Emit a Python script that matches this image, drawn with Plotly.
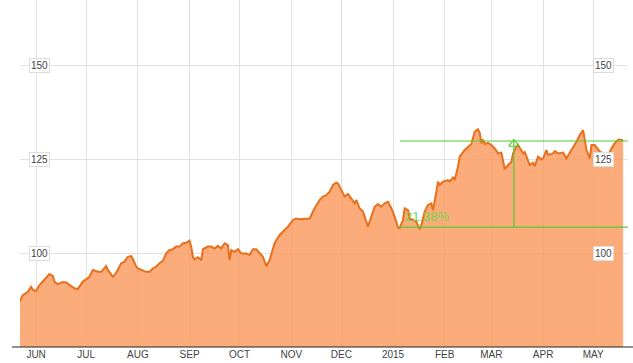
import plotly.graph_objects as go

dates = [
    "2014-05-22", "2014-05-24", "2014-05-27", "2014-05-29", "2014-05-30", "2014-06-01",
    "2014-06-03", "2014-06-05", "2014-06-07", "2014-06-09", "2014-06-11", "2014-06-12",
    "2014-06-14", "2014-06-17", "2014-06-19", "2014-06-21", "2014-06-24", "2014-06-26",
    "2014-06-27", "2014-06-29", "2014-07-02", "2014-07-03", "2014-07-05", "2014-07-08",
    "2014-07-10", "2014-07-11", "2014-07-13", "2014-07-14", "2014-07-17", "2014-07-18",
    "2014-07-20", "2014-07-22", "2014-07-24", "2014-07-26", "2014-07-28", "2014-07-29",
    "2014-07-31", "2014-08-01", "2014-08-03", "2014-08-06", "2014-08-08", "2014-08-10",
    "2014-08-12", "2014-08-14", "2014-08-16", "2014-08-18", "2014-08-20", "2014-08-22",
    "2014-08-24", "2014-08-26", "2014-08-28", "2014-08-30", "2014-09-01", "2014-09-02",
    "2014-09-03", "2014-09-04", "2014-09-06", "2014-09-08", "2014-09-09", "2014-09-12",
    "2014-09-14", "2014-09-16", "2014-09-18", "2014-09-20", "2014-09-22", "2014-09-24",
    "2014-09-25", "2014-09-26", "2014-09-28", "2014-09-30", "2014-10-02", "2014-10-05",
    "2014-10-07", "2014-10-09", "2014-10-11", "2014-10-13", "2014-10-15", "2014-10-17",
    "2014-10-19", "2014-10-22", "2014-10-25", "2014-10-28", "2014-10-30", "2014-11-02",
    "2014-11-04", "2014-11-06", "2014-11-09", "2014-11-12", "2014-11-15", "2014-11-18",
    "2014-11-20", "2014-11-22", "2014-11-24", "2014-11-26", "2014-11-28", "2014-11-29",
    "2014-12-01", "2014-12-03", "2014-12-05", "2014-12-07", "2014-12-09", "2014-12-10",
    "2014-12-12", "2014-12-14", "2014-12-16", "2014-12-17", "2014-12-19", "2014-12-21",
    "2014-12-23", "2014-12-25", "2014-12-27", "2014-12-29", "2014-12-31", "2015-01-02",
    "2015-01-04", "2015-01-05", "2015-01-07", "2015-01-08", "2015-01-10", "2015-01-11",
    "2015-01-13", "2015-01-15", "2015-01-17", "2015-01-18", "2015-01-20", "2015-01-22",
    "2015-01-24", "2015-01-25", "2015-01-27", "2015-01-28", "2015-01-29", "2015-01-31",
    "2015-02-03", "2015-02-04", "2015-02-06", "2015-02-07", "2015-02-09", "2015-02-10",
    "2015-02-13", "2015-02-15", "2015-02-17", "2015-02-19", "2015-02-21", "2015-02-22",
    "2015-02-23", "2015-02-24", "2015-02-25", "2015-02-27", "2015-03-01", "2015-03-03",
    "2015-03-05", "2015-03-07", "2015-03-08", "2015-03-09", "2015-03-11", "2015-03-13",
    "2015-03-14", "2015-03-16", "2015-03-17", "2015-03-19", "2015-03-20", "2015-03-21",
    "2015-03-23", "2015-03-24", "2015-03-26", "2015-03-27", "2015-03-29", "2015-03-31",
    "2015-04-01", "2015-04-03", "2015-04-04", "2015-04-07", "2015-04-08", "2015-04-10",
    "2015-04-13", "2015-04-14", "2015-04-15", "2015-04-18", "2015-04-20", "2015-04-21",
    "2015-04-23", "2015-04-25", "2015-04-26", "2015-04-27", "2015-04-29", "2015-04-30",
    "2015-05-02", "2015-05-05", "2015-05-07", "2015-05-10", "2015-05-12", "2015-05-14",
    "2015-05-16", "2015-05-18", "2015-05-19",
]

prices = [
    87.0, 88.8, 89.7, 91.0, 90.2, 89.9,
    91.5, 92.5, 93.3, 94.4, 93.9, 92.4,
    91.7, 92.3, 92.2, 91.5, 90.6, 90.4,
    91.2, 92.4, 93.3, 93.7, 95.5, 95.0,
    95.0, 95.5, 96.5, 95.5, 93.7, 94.1,
    95.5, 97.3, 97.7, 99.0, 99.2, 98.4,
    96.4, 95.9, 95.5, 95.0, 95.0, 95.9,
    96.4, 97.3, 97.9, 99.9, 100.8, 101.0,
    101.7, 101.7, 102.6, 102.7, 103.3, 101.7,
    99.0, 98.3, 98.9, 98.1, 101.0, 101.7,
    101.7, 101.2, 101.9, 101.2, 102.6, 102.1,
    98.1, 100.8, 100.3, 101.0, 99.9, 99.9,
    99.5, 101.0, 101.0, 100.1, 99.0, 96.5,
    98.1, 102.6, 104.8, 106.1, 107.0, 108.8,
    109.2, 109.0, 109.0, 109.2, 111.9, 114.1,
    115.0, 115.4, 116.3, 118.1, 118.7, 118.5,
    116.8, 115.0, 115.7, 114.5, 113.2, 114.1,
    111.9, 111.0, 108.3, 107.0, 109.7, 112.3,
    113.0, 112.3, 113.2, 113.6, 111.9, 109.7,
    106.8, 106.6, 108.8, 111.9, 111.4, 109.2,
    108.8, 108.3, 106.3, 107.4, 111.0, 112.8,
    113.2, 111.4, 116.3, 119.0, 118.1, 119.0,
    119.4, 119.0, 120.1, 119.4, 123.0, 125.6,
    127.4, 128.3, 129.0, 132.3, 132.9, 132.0,
    129.2, 130.2, 129.0, 129.3, 128.7, 127.8,
    126.5, 126.7, 123.9, 122.3, 123.4, 124.3,
    126.5, 128.3, 128.7, 127.4, 126.5, 126.9,
    124.3, 123.4, 124.0, 123.1, 125.6, 124.9,
    125.2, 127.4, 126.1, 126.5, 127.1, 126.5,
    126.7, 126.1, 125.2, 127.4, 128.7, 129.6,
    131.4, 132.7, 130.1, 127.4, 125.2, 128.7,
    128.7, 127.0, 126.5, 126.0, 127.8, 129.2,
    130.1, 130.1, 129.8,
]

month_ticks = ["2014-06-01", "2014-07-01", "2014-08-01", "2014-09-01", "2014-10-01",
               "2014-11-01", "2014-12-01", "2015-01-01", "2015-02-01", "2015-03-01",
               "2015-04-01", "2015-05-01"]
month_labels = ["JUN", "JUL", "AUG", "SEP", "OCT", "NOV", "DEC", "2015", "FEB", "MAR",
                "APR", "MAY"]
y_ticks = [100, 125, 150]

# measurement tool
meas_start = "2015-01-05"
meas_end = "2015-05-21 20:00"
meas_mid = "2015-03-14 12:00"
meas_low = 106.9
meas_high = 129.8
meas_label = "21.38%"
meas_label_pos = ("2015-01-07", 109.6)

x_range = ["2014-05-22 08:00", "2015-05-21 22:00"]
y_range = [75, 167.3]

GREEN = "#55cc2e"

fig = go.Figure()
fig.add_trace(go.Scatter(
    x=dates, y=prices, mode="lines",
    line=dict(color="#e8701c", width=2),
    fill="tozeroy", fillcolor="rgba(251,150,90,0.80)",
    hoverinfo="skip", showlegend=False,
))

# measurement lines
fig.add_trace(go.Scatter(x=[meas_start, meas_end], y=[meas_high, meas_high], mode="lines",
                         line=dict(color=GREEN, width=1.2), showlegend=False, hoverinfo="skip"))
fig.add_trace(go.Scatter(x=[meas_start, meas_end], y=[meas_low, meas_low], mode="lines",
                         line=dict(color=GREEN, width=1.2), showlegend=False, hoverinfo="skip"))
fig.add_trace(go.Scatter(x=[meas_mid, meas_mid], y=[meas_low, meas_high], mode="lines",
                         line=dict(color=GREEN, width=1.2), showlegend=False, hoverinfo="skip"))
fig.add_trace(go.Scatter(x=[meas_mid], y=[meas_high - 0.8], mode="markers",
                         marker=dict(symbol="triangle-up-open", size=9, color=GREEN,
                                     line=dict(width=1.2, color=GREEN)),
                         showlegend=False, hoverinfo="skip"))

annotations = [dict(x=meas_label_pos[0], y=meas_label_pos[1], text=meas_label,
                    showarrow=False, xanchor="left", yanchor="middle",
                    font=dict(family="Liberation Sans, Arial", size=13, color="#6ad84a"))]
for v in y_ticks:
    for px in (0.03125, 0.9597):
        annotations.append(dict(
            x=px, xref="paper", y=v, yref="y", text=str(v), showarrow=False,
            xanchor="center", yanchor="middle",
            font=dict(family="Liberation Sans, Arial", size=10, color="#444"),
            bgcolor="white", bordercolor="#dcdcdc", borderwidth=1, borderpad=1,
        ))

fig.update_layout(
    width=633, height=363,
    margin=dict(l=20, r=5, t=0, b=16),
    paper_bgcolor="white", plot_bgcolor="white",
    annotations=annotations,
    shapes=[dict(type="line", xref="paper", yref="paper", x0=-0.0132, x1=1.0082, y0=0, y1=0,
                 line=dict(color="#222", width=1))],
    xaxis=dict(range=x_range, type="date", tickvals=month_ticks, ticktext=month_labels,
               showgrid=True, gridcolor="#e2e2e2", gridwidth=1, ticks="", showline=False,
               zeroline=False,
               tickfont=dict(family="Liberation Sans, Arial", size=10, color="#444")),
    yaxis=dict(range=y_range, tickvals=y_ticks, showticklabels=False, showgrid=True,
               gridcolor="#e2e2e2", gridwidth=1, zeroline=False, showline=False),
)

fig.write_html("out.html")
